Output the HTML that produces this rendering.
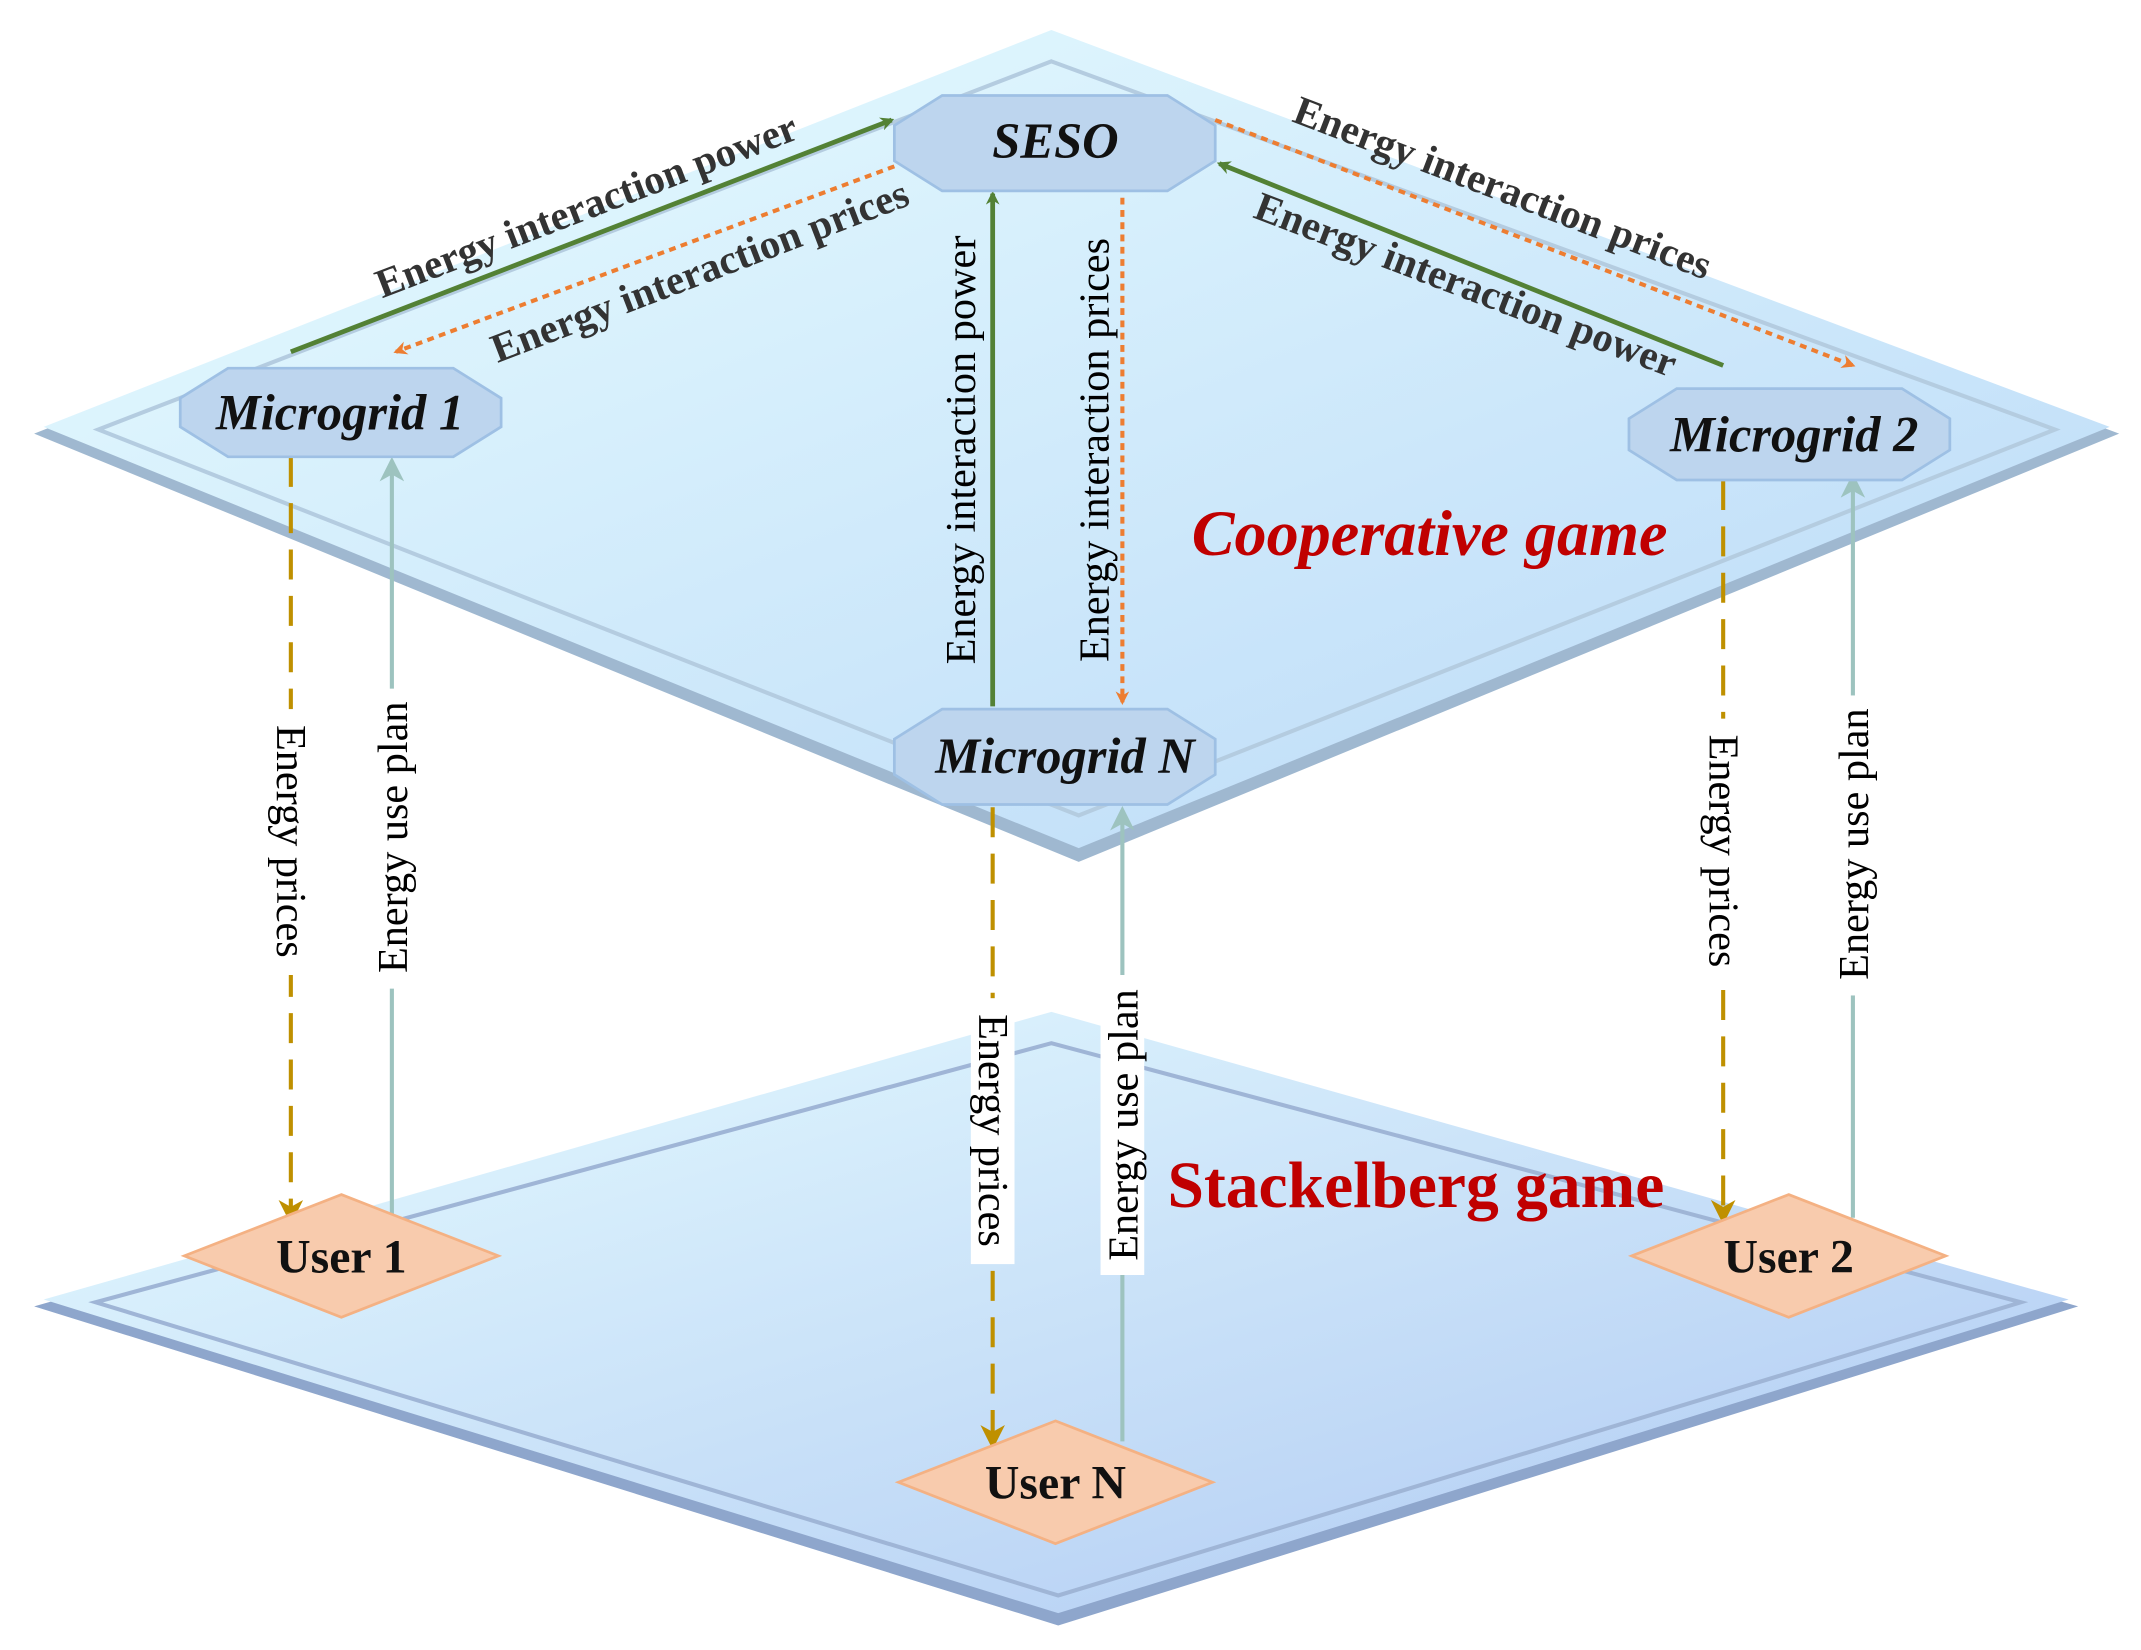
<!DOCTYPE html>
<html><head><meta charset="utf-8"><style>html,body{margin:0;padding:0;background:#fff}svg{display:block}</style></head>
<body>
<svg width="2141" height="1650" viewBox="0 0 1568 1210" preserveAspectRatio="none" xmlns="http://www.w3.org/2000/svg" font-family="Liberation Serif, serif">
<defs>
<linearGradient id="gt" x1="0" y1="0" x2="1" y2="1"><stop offset="0" stop-color="#e8fdff"/><stop offset="1" stop-color="#b9d8f7"/></linearGradient>
<linearGradient id="gb" x1="0" y1="0" x2="1" y2="1"><stop offset="0" stop-color="#e6fcff"/><stop offset="1" stop-color="#aec8f2"/></linearGradient>
<marker id="ag" markerWidth="10" markerHeight="10" refX="8" refY="5" orient="auto" markerUnits="userSpaceOnUse" viewBox="0 0 10 10"><path d="M0,0 L10,5 L0,10 L3,5z" fill="#538135"/></marker>
<marker id="ao" markerWidth="10" markerHeight="10" refX="8" refY="5" orient="auto" markerUnits="userSpaceOnUse" viewBox="0 0 10 10"><path d="M0,0 L10,5 L0,10 L3,5z" fill="#ed7d31"/></marker>
<marker id="ay" markerWidth="18" markerHeight="18" refX="15" refY="9" orient="auto" markerUnits="userSpaceOnUse" viewBox="0 0 18 18"><path d="M0,0 L18,9 L0,18 L5,9z" fill="#bf9000"/></marker>
<marker id="at" markerWidth="18" markerHeight="18" refX="15" refY="9" orient="auto" markerUnits="userSpaceOnUse" viewBox="0 0 18 18"><path d="M0,0 L18,9 L0,18 L5,9z" fill="#9dc3bf"/></marker>
</defs>
<polygon points="770,745 1522,958 775,1192 25,958" fill="#8ea6cc"/>
<polygon points="770,742 1515,953 775,1183 32,953" fill="url(#gb)"/>
<polygon points="770,765 1480,955 775,1170 70,955" fill="none" stroke="#9fb5d6" stroke-width="3"/>
<polygon points="770,25 1552,318 790,632 25,318" fill="#9fb8d0"/>
<polygon points="770,22 1545,313 790,622 32,313" fill="url(#gt)"/>
<polygon points="770,45 1505,315 790,598 72,315" fill="none" stroke="#b4cce0" stroke-width="3"/>

<text x="1047" y="407" font-size="47" font-weight="bold" font-style="italic" fill="#c00000" text-anchor="middle">Cooperative game</text>
<text x="1037" y="885" font-size="48" font-weight="bold" fill="#c00000" text-anchor="middle">Stackelberg game</text>

<line x1="213" y1="258" x2="653" y2="88" stroke="#538135" stroke-width="3.5" marker-end="url(#ag)"/>
<line x1="655" y1="122" x2="290" y2="258" stroke="#ed7d31" stroke-width="3" stroke-dasharray="5,4" marker-end="url(#ao)"/>
<line x1="727" y1="518" x2="727" y2="142" stroke="#538135" stroke-width="3.5" marker-end="url(#ag)"/>
<line x1="822" y1="145" x2="822" y2="515" stroke="#ed7d31" stroke-width="3" stroke-dasharray="5,4" marker-end="url(#ao)"/>
<line x1="890" y1="88" x2="1357" y2="268" stroke="#ed7d31" stroke-width="3" stroke-dasharray="5,4" marker-end="url(#ao)"/>
<line x1="1262" y1="268" x2="893" y2="120" stroke="#538135" stroke-width="3.5" marker-end="url(#ag)"/>

<line x1="213" y1="335" x2="213" y2="895" stroke="#bf9000" stroke-width="3" stroke-dasharray="22,12" marker-end="url(#ay)"/>
<line x1="287" y1="893" x2="287" y2="338" stroke="#9dc3bf" stroke-width="3" marker-end="url(#at)"/>
<line x1="1262" y1="352" x2="1262" y2="895" stroke="#bf9000" stroke-width="3" stroke-dasharray="22,12" marker-end="url(#ay)"/>
<line x1="1357" y1="893" x2="1357" y2="350" stroke="#9dc3bf" stroke-width="3" marker-end="url(#at)"/>
<line x1="727" y1="592" x2="727" y2="1060" stroke="#bf9000" stroke-width="3" stroke-dasharray="22,12" marker-end="url(#ay)"/>
<line x1="822" y1="1057" x2="822" y2="594" stroke="#9dc3bf" stroke-width="3" marker-end="url(#at)"/>

<g font-size="30" font-weight="bold" fill="#333" text-anchor="middle">
<text transform="translate(433,160) rotate(-21)">Energy interaction power</text>
<text transform="translate(516,208) rotate(-21)">Energy interaction prices</text>
<text transform="translate(1097,147) rotate(21)">Energy interaction prices</text>
<text transform="translate(1070,218) rotate(21)">Energy interaction power</text>
</g>
<g font-size="31" fill="#000" text-anchor="middle">
<g transform="translate(714,330) rotate(-90)"><text>Energy interaction power</text></g>
<g transform="translate(812,330) rotate(-90)"><text>Energy interaction prices</text></g>
<rect x="197" y="520" width="32" height="195" fill="#fff"/>
<g transform="translate(203,617) rotate(90)"><text>Energy prices</text></g>
<rect x="271" y="505" width="32" height="220" fill="#fff"/>
<g transform="translate(298,614) rotate(-90)"><text>Energy use plan</text></g>
<rect x="1246" y="527" width="32" height="195" fill="#fff"/>
<g transform="translate(1252,624) rotate(90)"><text>Energy prices</text></g>
<rect x="1341" y="510" width="32" height="220" fill="#fff"/>
<g transform="translate(1368,619) rotate(-90)"><text>Energy use plan</text></g>
<rect x="711" y="732" width="32" height="195" fill="#fff"/>
<g transform="translate(717,829) rotate(90)"><text>Energy prices</text></g>
<rect x="806" y="715" width="32" height="220" fill="#fff"/>
<g transform="translate(833,825) rotate(-90)"><text>Energy use plan</text></g>
</g>

<g fill="#bdd5ee" stroke="#9ec0e4" stroke-width="2">
<polygon points="690,70 855,70 890,92 890,118 855,140 690,140 655,118 655,92"/>
<polygon points="167,270 332,270 367,292 367,313 332,335 167,335 132,313 132,292"/>
<polygon points="1228,285 1393,285 1428,307 1428,330 1393,352 1228,352 1193,330 1193,307"/>
<polygon points="690,520 855,520 890,542 890,568 855,590 690,590 655,568 655,542"/>
</g>
<g font-size="37" font-weight="bold" font-style="italic" fill="#111" text-anchor="middle">
<text x="773" y="116">SESO</text>
<text x="249" y="315">Microgrid 1</text>
<text x="1314" y="331">Microgrid 2</text>
<text x="780" y="567">Microgrid N</text>
</g>
<g fill="#f8cbad" stroke="#f4b183" stroke-width="2">
<polygon points="250,876 365,921 250,966 135,921"/>
<polygon points="1310,876 1425,921 1310,966 1195,921"/>
<polygon points="773,1042 888,1087 773,1132 658,1087"/>
</g>
<g font-size="35" font-weight="bold" fill="#111" text-anchor="middle">
<text x="250" y="933">User 1</text>
<text x="1310" y="933">User 2</text>
<text x="773" y="1099">User N</text>
</g>
</svg>
</body></html>
